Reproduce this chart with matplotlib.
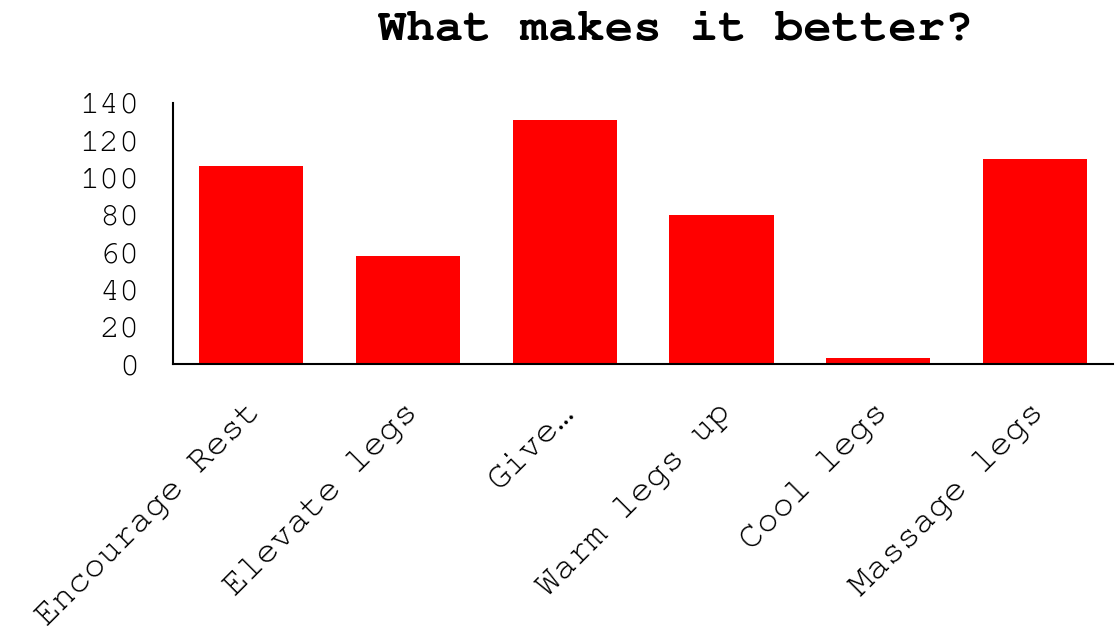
import matplotlib
matplotlib.use("Agg")
import matplotlib.pyplot as plt
from matplotlib.transforms import ScaledTranslation

categories = ["Encourage Rest", "Elevate legs", "Give\u2026", "Warm legs up", "Cool legs", "Massage legs"]
values = [106, 58, 131, 80, 3, 110]
yticks = [0, 20, 40, 60, 80, 100, 120, 140]

mono = ["FreeMono", "Liberation Mono", "DejaVu Sans Mono"]

fig = plt.figure(figsize=(11.2, 6.26), dpi=100)
ax = fig.add_axes([0.1545, 0.4185, 0.8395, 0.417])
x = list(range(len(categories)))
ax.bar(x, values, width=0.664, color="#ff0000")
ax.set_xlim(-0.5, len(categories) - 0.5)
ax.set_ylim(0, 140)
ax.set_yticks(yticks)
ax.set_yticklabels([str(v) for v in yticks], fontsize=24, family=mono)
ax.set_xticks(x)
ax.set_xticklabels(categories, rotation=45, ha="right", va="top",
                   rotation_mode="anchor", fontsize=26, family=mono)
ax.tick_params(axis="y", length=0, pad=24)
ax.tick_params(axis="x", length=0, pad=24)
off = ScaledTranslation(-0.05, 0, fig.dpi_scale_trans)
for lbl in ax.get_xticklabels():
    lbl.set_transform(lbl.get_transform() + off)
for s in ["top", "right"]:
    ax.spines[s].set_visible(False)
for s in ["left", "bottom"]:
    ax.spines[s].set_linewidth(1.5)
    ax.spines[s].set_color("black")

fig.text(0.603, 0.952, "What makes it better?", ha="center", va="center",
         fontsize=34, fontweight="bold", family=mono)

fig.savefig("out.png", dpi=100)
